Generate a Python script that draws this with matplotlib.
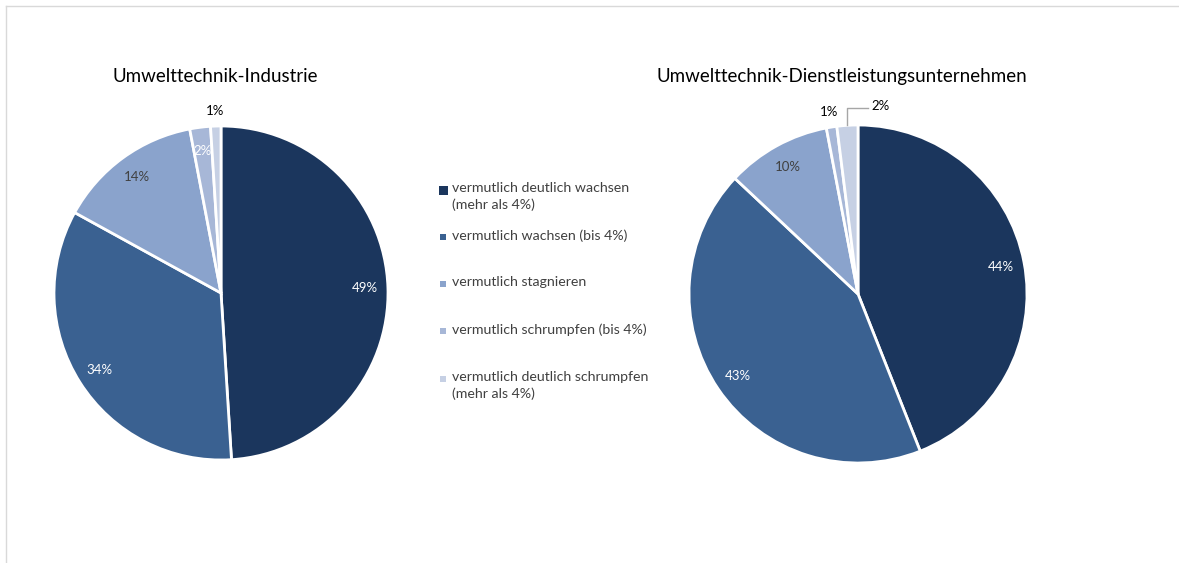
import matplotlib.pyplot as plt
from matplotlib.lines import Line2D
from matplotlib.patches import Rectangle
import numpy as np

plt.rcParams['font.family'] = ['Lato', 'DejaVu Sans']

# Data
categories = ['vermutlich deutlich wachsen\n(mehr als 4%)',
              'vermutlich wachsen (bis 4%)',
              'vermutlich stagnieren',
              'vermutlich schrumpfen (bis 4%)',
              'vermutlich deutlich schrumpfen\n(mehr als 4%)']
industrie = [49, 34, 14, 2, 1]
dienstleistung = [44, 43, 10, 1, 2]
titles = ['Umwelttechnik-Industrie', 'Umwelttechnik-Dienstleistungsunternehmen']

colors = ['#1b365d', '#3a6191', '#8aa3cc', '#a7b7d7', '#c6d0e4']
label_colors = ['white', 'white', '#404040', 'white', '#404040']

W, H = 1179, 563
fig = plt.figure(figsize=(W / 100, H / 100), dpi=100)

# light frame (top and left)
fig.add_artist(Line2D([6 / W, 1], [1 - 6 / H, 1 - 6 / H], color='#d9d9d9', lw=1))
fig.add_artist(Line2D([6 / W, 6 / W], [0, 1 - 6 / H], color='#d9d9d9', lw=1))


def draw_pie(cx, cy, r, values, title, title_x, min_inside):
    ax = fig.add_axes([(cx - r) / W, 1 - (cy + r) / H, 2 * r / W, 2 * r / H])
    wedges, _ = ax.pie(values, colors=colors, startangle=90, counterclock=False,
                       wedgeprops=dict(edgecolor='white', linewidth=2))
    ax.set_xlim(-1, 1)
    ax.set_ylim(-1, 1)
    ax.set_aspect('auto')
    ax.axis('off')
    labels = []
    for w, v, lc in zip(wedges, values, label_colors):
        ang = np.deg2rad((w.theta1 + w.theta2) / 2)
        if v >= min_inside:
            d, col = 0.86, lc
        else:
            d, col = 1.09, '#000000'
        labels.append(ax.text(d * np.cos(ang), d * np.sin(ang), f'{v}%',
                              ha='center', va='center', fontsize=9.5,
                              color=col, clip_on=False))
    fig.text(title_x / W, 1 - 77 / H, title, ha='center', va='center',
             fontsize=13.5, color='#000000')
    return ax, wedges, labels


draw_pie(221, 293, 167, industrie, titles[0], 215, 2)
ax2, w2, lab2 = draw_pie(858, 294, 169, dienstleistung, titles[1], 842, 5)

# leader line for the small last slice in the second pie
last = w2[-1]
ang = np.deg2rad((last.theta1 + last.theta2) / 2)
lab2[-1].set_position((0.08, 1.11))
lab2[-1].set_ha('left')
ax2.add_line(Line2D([np.cos(ang), np.cos(ang), 0.06],
                    [np.sin(ang), 1.1, 1.1], color='#a6a6a6', lw=1, clip_on=False))

# legend
leg_y = [190, 237, 284, 331, 379]
for lab, c, y in zip(categories, colors, leg_y):
    s = 9 if c == colors[0] else 6
    fig.add_artist(Rectangle(((443 - s / 2) / W, 1 - (y + s / 2) / H), s / W, s / H,
                             facecolor=c, edgecolor='none'))
    fig.text(452 / W, 1 - (y - 8) / H, lab, ha='left', va='top', fontsize=10.2,
             color='#404040', linespacing=1.4)

fig.savefig('out.png', dpi=100)
